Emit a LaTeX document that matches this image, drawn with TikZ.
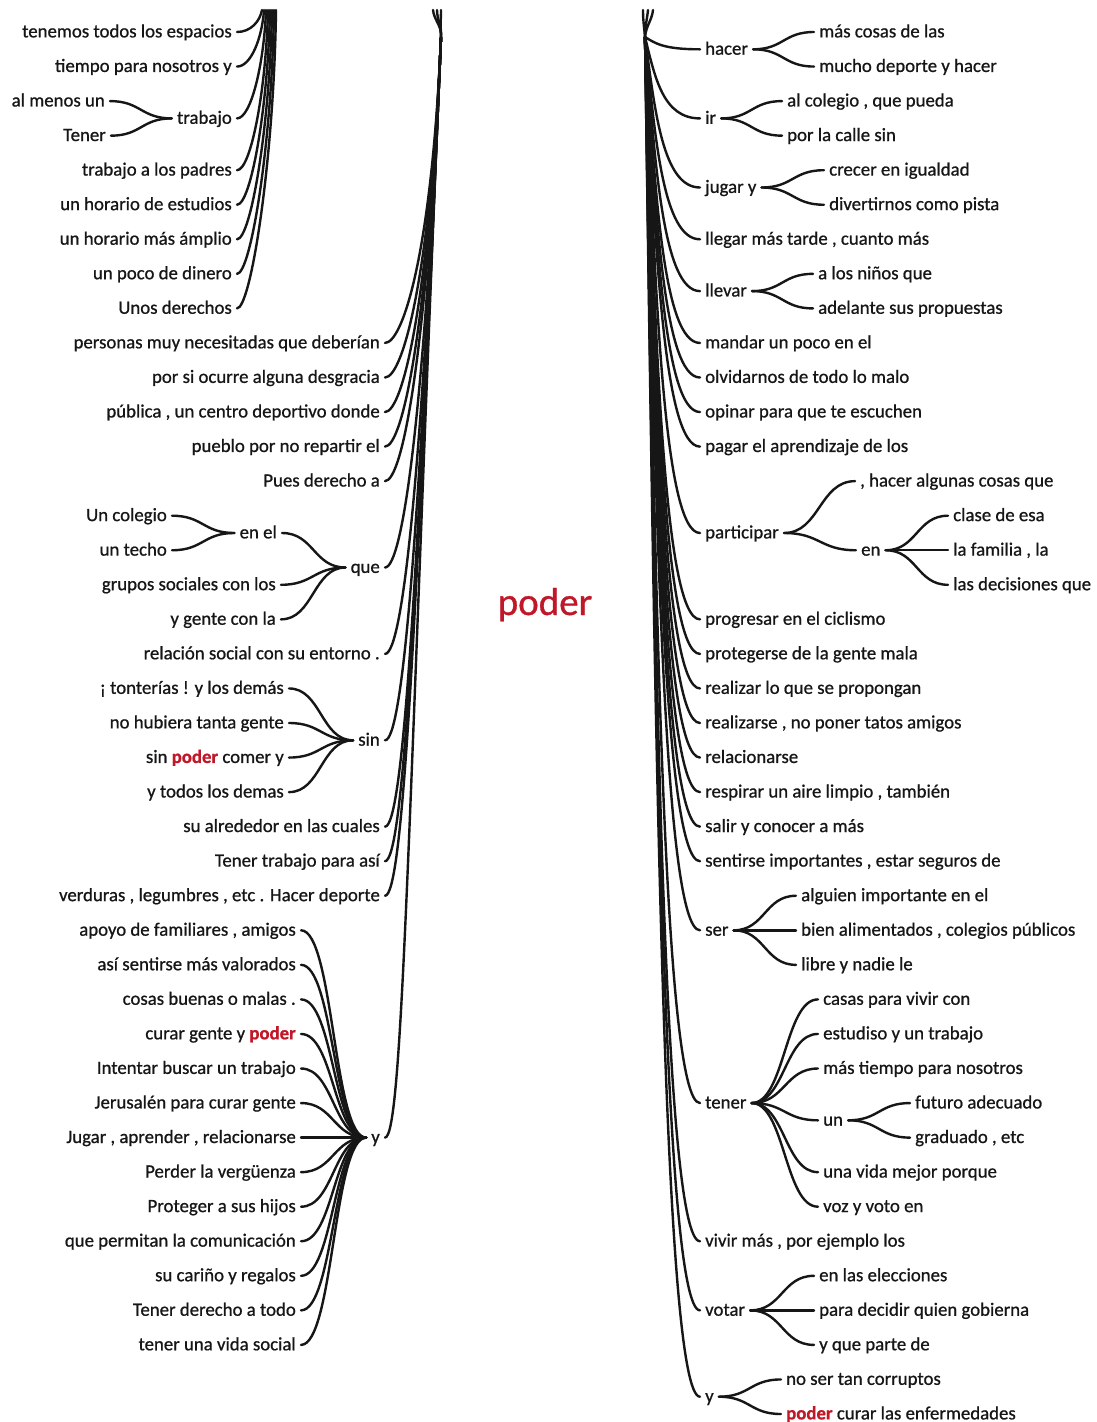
\documentclass[tikz,border=0pt]{standalone}
\usepackage{fontspec}
\setmainfont{Carlito}[FakeBold=0.8]
\usetikzlibrary{calc}
\definecolor{ink}{RGB}{22,22,22}
\definecolor{pod}{RGB}{192,24,40}
\newcommand\pd{\textcolor{pod}{\textbf{poder}}}
\tikzset{
  tx/.style={inner xsep=5pt, inner ysep=1pt, yshift=-5pt, text=ink, font=\fontsize{18.8}{22}\selectfont},
  L/.style={tx, anchor=mid east},
  R/.style={tx, anchor=mid west},
  con/.style={draw=ink, line width=2.4pt, line cap=round},
}
\newcommand\sg[2]{\draw[con] let \p1=($(#1)+(0,-3)$), \p2=($(#2)+(0,-3)$) in (\p1) .. controls ({(\x1+\x2)/2},\y1) and ({(\x1+\x2)/2},\y2) .. (\p2);}
\newcommand\bR[1]{\draw[con] let \p1=(PR), \p2=($(#1.mid west)+(0,-3)$) in (\p1) .. controls ({\x1+10pt},{\y1+0.5*(\y2-\y1)}) and ({\x1+18pt},\y2) .. (\p2);}
\newcommand\bL[1]{\draw[con] let \p1=(PL), \p2=($(#1.mid east)+(0,-3)$) in (\p1) .. controls ({\x1+0.0426*0.7*(\y2-\y1)},{\y1+0.7*(\y2-\y1)}) and ({\x2+18pt},\y2) .. (\p2);}
\newcommand\bA[2]{\draw[con] let \p1=(#2,10), \p2=($(#1.mid east)+(0,-3)$) in (\p1) .. controls ({\x1-2pt},{\y1+0.5*(\y2-\y1)}) and ({\x2+14pt},\y2) .. (\p2);}
\begin{document}
\begin{tikzpicture}[x=1pt,y=-1pt]
\fill[white] (0,0) rectangle (1096,1422);
\useasboundingbox (0,0) rectangle (1096,1422);
\coordinate (PL) at (441,37);
\coordinate (PR) at (645,37);
\coordinate (TL1) at (433,10);
\coordinate (TL2) at (437,10);
\coordinate (TL3) at (441,10);
\coordinate (TR1) at (643,10);
\coordinate (TR2) at (648,10);
\coordinate (TR3) at (653,10);
% centre word
\node[text=pod, font=\fontsize{39}{44}\selectfont, anchor=base, inner sep=0pt] (pw) at (545,615) {poder};
% ---------------- left, group A
\node[L] (a0) at (237,30) {tenemos todos los espacios};
\node[L] (a1) at (237,64.55) {tiempo para nosotros y};
\node[L] (a2a) at (110,99.1) {al menos un};
\node[L] (a2b) at (111,133.65) {Tener};
\node[L] (a2) at (237,116.4) {trabajo};
\node[L] (a4) at (237,168.2) {trabajo a los padres};
\node[L] (a5) at (237,202.75) {un horario de estudios};
\node[L] (a6) at (237,237.3) {un horario más ámplio};
\node[L] (a7) at (237,271.85) {un poco de dinero};
\node[L] (a8) at (237,306.4) {Unos derechos};
% ---------------- left, group B
\node[L] (b9) at (385,340.95) {personas muy necesitadas que deberían};
\node[L] (b10) at (385,375.5) {por si ocurre alguna desgracia};
\node[L] (b11) at (385,410.05) {pública , un centro deportivo donde};
\node[L] (b12) at (385,444.6) {pueblo por no repartir el};
\node[L] (b13) at (385,479.15) {Pues derecho a};
\node[L] (c14) at (172,513.7) {Un colegio};
\node[L] (c15) at (172,548.25) {un techo};
\node[L] (cEn) at (282,531) {en el};
\node[L] (c16) at (281,582.8) {grupos sociales con los};
\node[L] (c17) at (281,617.35) {y gente con la};
\node[L] (bQue) at (385,565.5) {que};
\node[L] (b18) at (385,651.9) {relación social con su entorno .};
\node[L] (d19) at (289,686.45) {¡ tonterías ! y los demás};
\node[L] (d20) at (289,721) {no hubiera tanta gente};
\node[L] (d21) at (289,755.55) {sin \pd{} comer y};
\node[L] (d22) at (289,790.1) {y todos los demas};
\node[L] (bSin) at (385,738.3) {sin};
\node[L] (b23) at (385,824.65) {su alrededor en las cuales};
\node[L] (b24) at (385,859.2) {Tener trabajo para así};
\node[L] (b25) at (385,893.75) {verduras , legumbres , etc . Hacer deporte};
\node[L] (e26) at (301,928.3) {apoyo de familiares , amigos};
\node[L] (e27) at (301,962.85) {así sentirse más valorados};
\node[L] (e28) at (301,997.4) {cosas buenas o malas .};
\node[L] (e29) at (301,1031.95) {curar gente y \pd};
\node[L] (e30) at (301,1066.5) {Intentar buscar un trabajo};
\node[L] (e31) at (301,1101.05) {Jerusalén para curar gente};
\node[L] (e32) at (301,1135.6) {Jugar , aprender , relacionarse};
\node[L] (e33) at (301,1170.15) {Perder la vergüenza};
\node[L] (e34) at (301,1204.7) {Proteger a sus hijos};
\node[L] (e35) at (301,1239.25) {que permitan la comunicación};
\node[L] (e36) at (301,1273.8) {su cariño y regalos};
\node[L] (e37) at (301,1308.35) {Tener derecho a todo};
\node[L] (e38) at (301,1342.9) {tener una vida social};
\node[L] (bY) at (385,1135.6) {y};
% ---------------- right
\node[R] (rHacer) at (700,47.3) {hacer};
\node[R] (h1) at (814,30) {más cosas de las};
\node[R] (h2) at (814,64.55) {mucho deporte y hacer};
\node[R] (rIr) at (700,116.4) {ir};
\node[R] (i1) at (782,99.1) {al colegio , que pueda};
\node[R] (i2) at (782,133.65) {por la calle sin};
\node[R] (rJug) at (700,185.5) {jugar y};
\node[R] (j1) at (824,168.2) {crecer en igualdad};
\node[R] (j2) at (824,202.75) {divertirnos como pista};
\node[R] (rLleg) at (700,237.3) {llegar más tarde , cuanto más};
\node[R] (rLlev) at (700,289.1) {llevar};
\node[R] (l1) at (813,271.85) {a los niños que};
\node[R] (l2) at (813,306.4) {adelante sus propuestas};
\node[R] (rMan) at (700,340.95) {mandar un poco en el};
\node[R] (rOlv) at (700,375.5) {olvidarnos de todo lo malo};
\node[R] (rOpi) at (700,410.05) {opinar para que te escuchen};
\node[R] (rPag) at (700,444.6) {pagar el aprendizaje de los};
\node[R] (rPar) at (700,531) {participar};
\node[R] (p1) at (855,479.15) {, hacer algunas cosas que};
\node[R] (pEn) at (856,548.25) {en};
\node[R] (q1) at (948,513.7) {clase de esa};
\node[R] (q2) at (948,548.25) {la familia , la};
\node[R] (q3) at (948,582.8) {las decisiones que};
\node[R] (rPro) at (700,617.35) {progresar en el ciclismo};
\node[R] (rPrt) at (700,651.9) {protegerse de la gente mala};
\node[R] (rRea) at (700,686.45) {realizar lo que se propongan};
\node[R] (rRes) at (700,721) {realizarse , no poner tatos amigos};
\node[R] (rRel) at (700,755.55) {relacionarse};
\node[R] (rRsp) at (700,790.1) {respirar un aire limpio , también};
\node[R] (rSal) at (700,824.65) {salir y conocer a más};
\node[R] (rSen) at (700,859.2) {sentirse importantes , estar seguros de};
\node[R] (rSer) at (700,928.3) {ser};
\node[R] (s1) at (796,893.75) {alguien importante en el};
\node[R] (s2) at (796,928.3) {bien alimentados , colegios públicos};
\node[R] (s3) at (796,962.85) {libre y nadie le};
\node[R] (rTen) at (700,1101.05) {tener};
\node[R] (t1) at (818,997.4) {casas para vivir con};
\node[R] (t2) at (818,1031.95) {estudiso y un trabajo};
\node[R] (t3) at (818,1066.5) {más tiempo para nosotros};
\node[R] (tUn) at (818,1118.3) {un};
\node[R] (u1) at (910,1101.05) {futuro adecuado};
\node[R] (u2) at (910,1135.6) {graduado , etc};
\node[R] (t4) at (818,1170.15) {una vida mejor porque};
\node[R] (t5) at (818,1204.7) {voz y voto en};
\node[R] (rViv) at (700,1239.25) {vivir más , por ejemplo los};
\node[R] (rVot) at (700,1308.35) {votar};
\node[R] (v1) at (814,1273.8) {en las elecciones};
\node[R] (v2) at (814,1308.35) {para decidir quien gobierna};
\node[R] (v3) at (814,1342.9) {y que parte de};
\node[R] (rY) at (700,1394.7) {y};
\node[R] (y1) at (781,1377.45) {no ser tan corruptos};
\node[R] (y2) at (781,1412) {\pd{} curar las enfermedades};
% ---------------- bundles
\bA{a0}{262} \bA{a1}{264} \bA{a2}{266} \bA{a4}{268}
\bA{a5}{270} \bA{a6}{272} \bA{a7}{274} \bA{a8}{276}
\foreach \k in {b9,b10,b11,b12,b13,bQue,b18,bSin,b23,b24,b25,bY} {\bL{\k}}
\foreach \k in {rHacer,rIr,rJug,rLleg,rLlev,rMan,rOlv,rOpi,rPag,rPar,rPro,rPrt,rRea,rRes,rRel,rRsp,rSal,rSen,rSer,rTen,rViv,rVot,rY} {\bR{\k}}
\draw[con] (PL) .. controls (442,26) and (434,20) .. (TL1);
\draw[con] (PL) .. controls (442,26) and (437,20) .. (TL2);
\draw[con] (PL) .. controls (440,26) and (441,20) .. (TL3);
\draw[con] (PR) .. controls (644,26) and (643,20) .. (TR1);
\draw[con] (PR) .. controls (645,26) and (647,20) .. (TR2);
\draw[con] (PR) .. controls (646,26) and (652,20) .. (TR3);
% ---------------- branch connectors, left
\sg{a2a.mid east}{a2.mid west}
\sg{a2b.mid east}{a2.mid west}
\sg{c14.mid east}{cEn.mid west}
\sg{c15.mid east}{cEn.mid west}
\foreach \k in {cEn,c16,c17} {\sg{\k.mid east}{bQue.mid west}}
\foreach \k in {d19,d20,d21,d22} {\sg{\k.mid east}{bSin.mid west}}
\foreach \k in {e26,e27,e28,e29,e30,e31,e32,e33,e34,e35,e36,e37,e38} {\sg{\k.mid east}{bY.mid west}}
% ---------------- branch connectors, right
\foreach \k in {h1,h2} {\sg{rHacer.mid east}{\k.mid west}}
\foreach \k in {i1,i2} {\sg{rIr.mid east}{\k.mid west}}
\foreach \k in {j1,j2} {\sg{rJug.mid east}{\k.mid west}}
\foreach \k in {l1,l2} {\sg{rLlev.mid east}{\k.mid west}}
\foreach \k in {p1,pEn} {\sg{rPar.mid east}{\k.mid west}}
\foreach \k in {q1,q2,q3} {\sg{pEn.mid east}{\k.mid west}}
\foreach \k in {s1,s2,s3} {\sg{rSer.mid east}{\k.mid west}}
\foreach \k in {t1,t2,t3,tUn,t4,t5} {\sg{rTen.mid east}{\k.mid west}}
\foreach \k in {u1,u2} {\sg{tUn.mid east}{\k.mid west}}
\foreach \k in {v1,v2,v3} {\sg{rVot.mid east}{\k.mid west}}
\foreach \k in {y1,y2} {\sg{rY.mid east}{\k.mid west}}
\end{tikzpicture}
\end{document}
